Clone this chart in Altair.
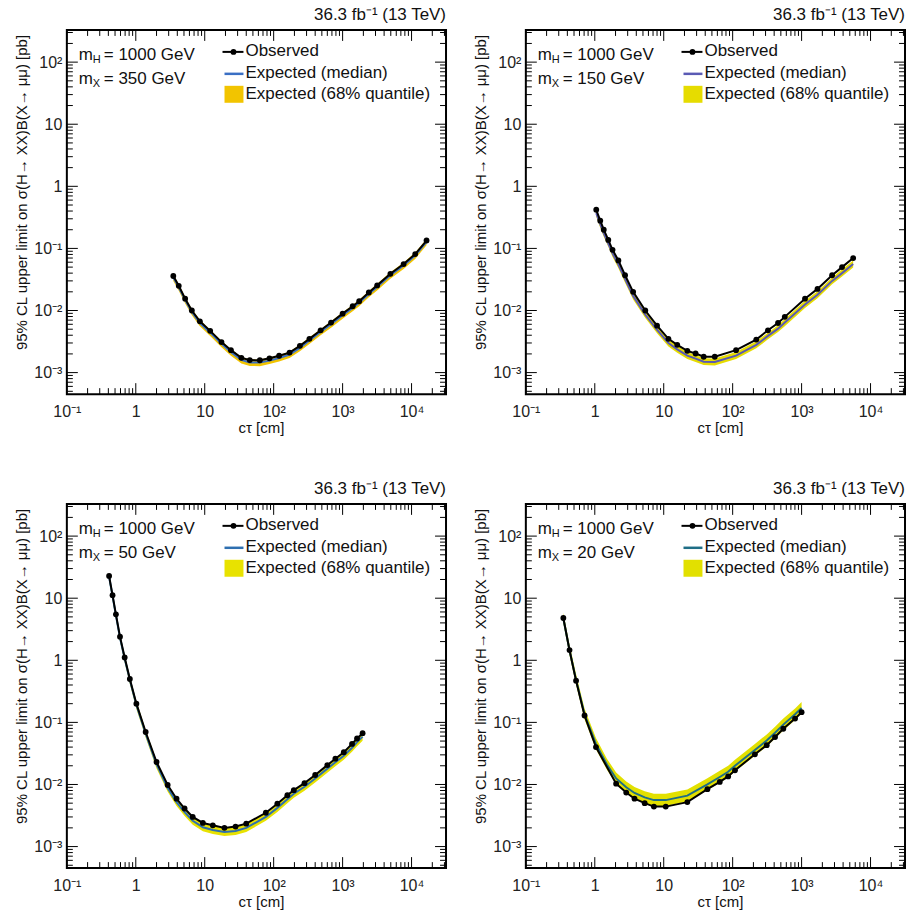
import altair as alt
import pandas as pd

FONT = "Liberation Sans"
W, H = 380, 365
X_DOMAIN = [0.1, 31623]
Y_DOMAIN = [4.5e-4, 330]

LUMI = "36.3 fb⁻¹ (13 TeV)"
X_TITLE = "cτ [cm]"
Y_TITLE = "95% CL upper limit on σ(H→ XX)B(X→ μμ) [pb]"
MH_TEXT = "= 1000 GeV"
MX_TEXTS = ["= 350 GeV", "= 150 GeV", "= 50 GeV", "= 20 GeV"]
LEGEND = ["Observed", "Expected (median)", "Expected (68% quantile)"]

X_MAJOR = [0.1, 1, 10, 100, 1000, 10000]
Y_MAJOR = [0.001, 0.01, 0.1, 1, 10, 100]
X_MINOR = [m * 10.0 ** e for e in range(-1, 5) for m in range(2, 10) if m * 10.0 ** e <= X_DOMAIN[1]]
Y_MINOR = [m * 10.0 ** e for e in range(-4, 3) for m in range(2, 10)
           if Y_DOMAIN[0] <= m * 10.0 ** e <= Y_DOMAIN[1]]

# ---- panel A : mX = 350 GeV
ct_A = [3.5, 4.2, 5.2, 6.5, 8.5, 12, 17.5, 24, 34, 45, 63, 87, 120, 170, 240,
        330, 480, 680, 1000, 1400, 1740, 2400, 3170, 4930, 7670, 11300, 16500]
obs_A = [0.036, 0.025, 0.0155, 0.0100, 0.0067, 0.0047, 0.0031, 0.0023, 0.00173, 0.00159,
         0.00158, 0.0017, 0.00187, 0.0021, 0.0027, 0.0035, 0.0048, 0.0064, 0.0089, 0.0117,
         0.0141, 0.0195, 0.0254, 0.039, 0.056, 0.081, 0.134]
med_A = [0.034, 0.0237, 0.0147, 0.0095, 0.0063, 0.0044, 0.0029, 0.00213, 0.00160, 0.00146,
         0.00145, 0.00156, 0.00172, 0.00195, 0.0025, 0.0033, 0.0045, 0.0060, 0.0084, 0.0110,
         0.0133, 0.0185, 0.0240, 0.037, 0.053, 0.077, 0.127]
lo_A = [0.030, 0.0209, 0.0130, 0.0084, 0.0056, 0.0039, 0.00255, 0.00187, 0.00140, 0.00128,
        0.00127, 0.00137, 0.00151, 0.00172, 0.0022, 0.0029, 0.0040, 0.0053, 0.0074, 0.0097,
        0.0117, 0.0163, 0.0211, 0.0326, 0.0466, 0.0678, 0.112]
hi_A = [0.038, 0.0265, 0.0165, 0.0106, 0.0071, 0.0049, 0.00325, 0.00239, 0.00179, 0.00164,
        0.00162, 0.00175, 0.00193, 0.00218, 0.0028, 0.0037, 0.0050, 0.0067, 0.0094, 0.0123,
        0.0149, 0.0207, 0.0269, 0.0414, 0.0594, 0.0862, 0.142]

# ---- panel B : mX = 150 GeV
ct_B = [1.05, 1.2, 1.35, 1.57, 1.81, 2.2, 2.75, 3.6, 5.4, 8.0, 11.7, 15.7, 22, 29, 38,
        55, 112, 220, 325, 455, 570, 1120, 1700, 2770, 3860, 5600]
obs_B = [0.42, 0.28, 0.20, 0.137, 0.095, 0.064, 0.037, 0.020, 0.0100, 0.0057, 0.0035, 0.0028,
         0.00224, 0.00203, 0.0018, 0.0018, 0.0023, 0.0034, 0.0048, 0.0063, 0.0079, 0.0155,
         0.0223, 0.037, 0.050, 0.070]
med_B = [0.37, 0.245, 0.175, 0.12, 0.083, 0.055, 0.032, 0.0172, 0.0086, 0.0049, 0.0030, 0.00237,
         0.00188, 0.00168, 0.00150, 0.00148, 0.00188, 0.0028, 0.0039, 0.0051, 0.0064, 0.0125,
         0.018, 0.030, 0.040, 0.056]
lo_B = [0.325, 0.216, 0.154, 0.106, 0.073, 0.048, 0.028, 0.0151, 0.0076, 0.0043, 0.00264, 0.00208,
        0.00165, 0.00148, 0.00132, 0.00130, 0.00165, 0.00246, 0.00343, 0.0045, 0.0056, 0.0110,
        0.0158, 0.0264, 0.0352, 0.0493]
hi_B = [0.42, 0.279, 0.20, 0.137, 0.095, 0.063, 0.0365, 0.0196, 0.0098, 0.0056, 0.00342, 0.0027,
        0.00214, 0.00192, 0.00171, 0.00169, 0.00214, 0.0032, 0.0044, 0.0058, 0.0073, 0.0143,
        0.0205, 0.034, 0.046, 0.064]

# ---- panel C : mX = 50 GeV
ct_C = [0.41, 0.46, 0.515, 0.59, 0.69, 0.82, 1.02, 1.39, 2.0, 2.9, 3.9, 5.1, 6.7, 9.4, 13.1,
        19.3, 28, 40, 77, 113, 158, 196, 280, 400, 600, 785, 1040, 1370, 1620, 1950]
obs_C = [22.8, 11.2, 5.5, 2.4, 1.11, 0.50, 0.20, 0.07, 0.023, 0.0098, 0.0059, 0.0041, 0.0030,
         0.0024, 0.0022, 0.0020, 0.0021, 0.00234, 0.0035, 0.0049, 0.0067, 0.0081, 0.0105,
         0.0142, 0.0205, 0.026, 0.033, 0.045, 0.055, 0.067]
med_C = [22.0, 10.8, 5.3, 2.3, 1.06, 0.48, 0.19, 0.066, 0.021, 0.0088, 0.0052, 0.0036, 0.0026,
         0.00205, 0.00185, 0.00172, 0.00178, 0.002, 0.0030, 0.0042, 0.0058, 0.0071, 0.0092,
         0.0125, 0.018, 0.0228, 0.029, 0.039, 0.048, 0.059]
lo_C = [19.0, 9.3, 4.6, 2.0, 0.92, 0.415, 0.164, 0.057, 0.018, 0.0076, 0.0045, 0.0031, 0.00224,
        0.00176, 0.00159, 0.00148, 0.00153, 0.00172, 0.0026, 0.0036, 0.0050, 0.0061, 0.0079,
        0.0108, 0.0155, 0.0196, 0.025, 0.0335, 0.0413, 0.0507]
hi_C = [25.3, 12.4, 6.1, 2.65, 1.22, 0.55, 0.22, 0.076, 0.024, 0.0101, 0.0060, 0.0041, 0.0030,
        0.00236, 0.00213, 0.00198, 0.00205, 0.0023, 0.00345, 0.0048, 0.0067, 0.0082, 0.0106,
        0.0144, 0.0207, 0.0262, 0.0334, 0.0449, 0.0552, 0.0679]

# ---- panel D : mX = 20 GeV
ct_D = [0.35, 0.43, 0.535, 0.71, 1.04, 2.04, 2.86, 3.77, 5.3, 7.2, 10.7, 22, 43, 65, 86,
        108, 210, 312, 412, 543, 804, 1000]
obs_D = [4.8, 1.46, 0.47, 0.129, 0.040, 0.0103, 0.0074, 0.0059, 0.0050, 0.0044, 0.0044, 0.0052,
         0.0084, 0.011, 0.0135, 0.0169, 0.0306, 0.043, 0.058, 0.079, 0.115, 0.146]
ctE_D = [0.35, 0.43, 0.535, 0.71, 1.04, 1.5, 2.04, 2.86, 3.77, 5.3, 7.2, 10.7, 22, 43, 65, 86,
         108, 210, 312, 412, 543, 804, 1000]
med_D = [4.7, 1.45, 0.48, 0.135, 0.045, 0.021, 0.0125, 0.0090, 0.0073, 0.0062, 0.0056, 0.0056,
         0.0066, 0.0100, 0.0132, 0.016, 0.020, 0.036, 0.051, 0.068, 0.092, 0.135, 0.170]
lo_D = [3.9, 1.2, 0.40, 0.112, 0.037, 0.0172, 0.0102, 0.0073, 0.0059, 0.0050, 0.0045, 0.0045,
        0.0053, 0.0081, 0.0107, 0.013, 0.0162, 0.029, 0.041, 0.055, 0.074, 0.109, 0.138]
hi_D = [5.8, 1.8, 0.60, 0.168, 0.056, 0.026, 0.0156, 0.0112, 0.0091, 0.0078, 0.0071, 0.0071,
        0.0083, 0.0126, 0.0166, 0.020, 0.025, 0.045, 0.064, 0.085, 0.115, 0.168, 0.212]

BAND_COLORS = ["#F2C400", "#E6DC00", "#E8E200", "#E2E000"]
MED_COLORS = ["#3A6FC4", "#5A5AB4", "#2E6FB0", "#1F6E86"]

XS = alt.Scale(type="log", domain=X_DOMAIN, nice=False)
YS = alt.Scale(type="log", domain=Y_DOMAIN, nice=False)

X_LABELS = ("datum.value < 0.5 ? '10⁻¹' : datum.value < 5 ? '1' : datum.value < 50 ? '10' : "
            "datum.value < 500 ? '10²' : datum.value < 5000 ? '10³' : '10⁴'")
Y_LABELS = ("datum.value < 0.005 ? '10⁻³' : datum.value < 0.05 ? '10⁻²' : datum.value < 0.5 ? '10⁻¹' : "
            "datum.value < 5 ? '1' : datum.value < 50 ? '10' : '10²'")

XAXIS = alt.Axis(values=X_MAJOR, labelExpr=X_LABELS, ticks=False, domain=False, grid=False,
                 title=None, labelFont=FONT, labelFontSize=16, labelColor="#222",
                 labelPadding=9, labelFlush=False, labelOverlap=False)
YAXIS = alt.Axis(values=Y_MAJOR, labelExpr=Y_LABELS, ticks=False, domain=False, grid=False,
                 title=None, labelFont=FONT, labelFontSize=16, labelColor="#222",
                 labelPadding=5, labelFlush=False, labelOverlap=False)

ONE = pd.DataFrame({"k": [0]})


def xenc(f):
    return alt.X(f, type="quantitative", scale=XS, axis=XAXIS)


def yenc(f):
    return alt.Y(f, type="quantitative", scale=YS, axis=YAXIS)


def txt(s, x0, y0, size=17, align="left", angle=0, color="#111"):
    return alt.Chart(ONE).mark_text(text=s, font=FONT, fontSize=size, align=align,
                                    baseline="middle", angle=angle, color=color).encode(
        x=alt.value(x0), y=alt.value(y0))


def xticks(vals, y1, y2):
    return alt.Chart(pd.DataFrame({"t": vals})).mark_rule(color="black", strokeWidth=1).encode(
        x=xenc("t"), y=alt.value(y1), y2=alt.value(y2))


def yticks(vals, x1, x2):
    return alt.Chart(pd.DataFrame({"t": vals})).mark_rule(color="black", strokeWidth=1).encode(
        y=yenc("t"), x=alt.value(x1), x2=alt.value(x2))


def panel(ct_o, obs, ct_e, med, lo, hi, mx_text, band_color, med_color, anchors):
    obs_df = pd.DataFrame({"ct": ct_o, "obs": obs})
    exp_df = pd.DataFrame({"ct": ct_e, "med": med, "lo": lo, "hi": hi})
    band = alt.Chart(exp_df).mark_area(color=band_color, opacity=1).encode(
        x=xenc("ct"), y=yenc("lo"), y2=alt.Y2("hi"))
    med_line = alt.Chart(exp_df).mark_line(color=med_color, strokeWidth=2).encode(
        x=xenc("ct"), y=yenc("med"))
    obs_line = alt.Chart(obs_df).mark_line(color="black", strokeWidth=2).encode(
        x=xenc("ct"), y=yenc("obs"))
    obs_pts = alt.Chart(obs_df).mark_circle(color="black", size=34, opacity=1).encode(
        x=xenc("ct"), y=yenc("obs"))
    ticks = [
        xticks(X_MAJOR, H, H - 11), xticks(X_MINOR, H, H - 6),
        xticks(X_MAJOR, 0, 11), xticks(X_MINOR, 0, 6),
        yticks(Y_MAJOR, 0, 11), yticks(Y_MINOR, 0, 6),
        yticks(Y_MAJOR, W, W - 11), yticks(Y_MINOR, W, W - 6),
    ]
    leg = [
        alt.Chart(ONE).mark_rule(color="black", strokeWidth=2).encode(
            x=alt.value(156), x2=alt.value(177), y=alt.value(22)),
        alt.Chart(ONE).mark_circle(color="black", size=34, opacity=1).encode(
            x=alt.value(167), y=alt.value(22)),
        alt.Chart(ONE).mark_rule(color=med_color, strokeWidth=2.5).encode(
            x=alt.value(158), x2=alt.value(177), y=alt.value(44)),
        alt.Chart(ONE).mark_rect(color=band_color).encode(
            x=alt.value(158), x2=alt.value(177), y=alt.value(56), y2=alt.value(73)),
        txt(LEGEND[0], 179, 21),
        txt(LEGEND[1], 179, 43),
        txt(LEGEND[2], 179, 64),
    ]
    labels = [
        txt("m", 12, 25), txt("H", 26, 30, size=11), txt(MH_TEXT, 37, 25),
        txt("m", 12, 49), txt("X", 26, 54, size=11), txt(mx_text, 37, 49),
        txt(LUMI, W, -15, size=17, align="right"),
        txt(X_TITLE, W / 2 + 5, H + 34, size=15, align="center"),
        txt(Y_TITLE, -45, 5, size=15, align="right", angle=270),
    ]
    extra = []
    for (ax, ay) in anchors:
        extra.append(alt.Chart(ONE).mark_rule(color="white", strokeWidth=1).encode(
            x=alt.value(ax), x2=alt.value(ax), y=alt.value(ay), y2=alt.value(ay + 1)))
    return alt.layer(band, med_line, obs_line, obs_pts, *ticks, *leg, *labels, *extra).properties(
        width=W, height=H)


pA = panel(ct_A, obs_A, ct_A, med_A, lo_A, hi_A, MX_TEXTS[0], BAND_COLORS[0], MED_COLORS[0],
           [(-65.5, -27)])
pB = panel(ct_B, obs_B, ct_B, med_B, lo_B, hi_B, MX_TEXTS[1], BAND_COLORS[1], MED_COLORS[1], [])
pC = panel(ct_C, obs_C, ct_C, med_C, lo_C, hi_C, MX_TEXTS[2], BAND_COLORS[2], MED_COLORS[2], [])
pD = panel(ct_D, obs_D, ctE_D, med_D, lo_D, hi_D, MX_TEXTS[3], BAND_COLORS[3], MED_COLORS[3],
           [(W + 2.5, H + 44)])

chart = alt.concat(pA, pB, pC, pD, columns=2, spacing={"row": 110, "column": 80},
                   bounds="flush").properties(
    padding={"left": 0, "top": 0, "right": 0, "bottom": 0}
).configure_view(stroke="black", strokeWidth=2)

chart.save("out.html", embed_options={"renderer": "svg", "actions": False})
